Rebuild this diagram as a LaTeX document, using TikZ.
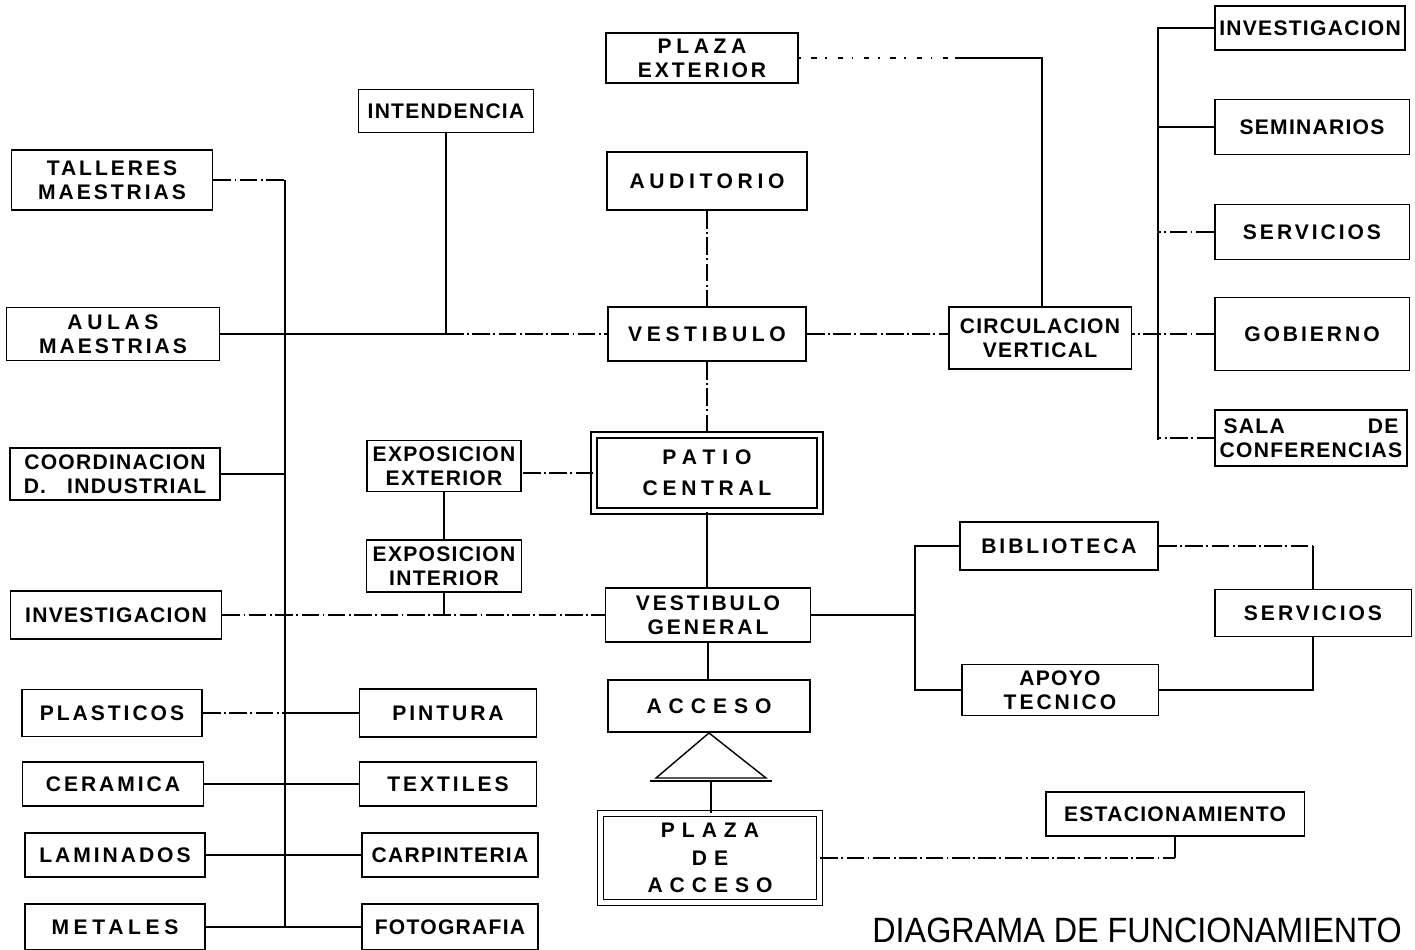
\documentclass[tikz,border=0pt]{standalone}
\usepackage{fontspec}
\setmainfont{Liberation Sans}
\newfontfamily\lbl[LetterSpace=6]{Liberation Sans}
\newfontfamily\lblw[LetterSpace=14]{Liberation Sans}
\newfontfamily\lblx[LetterSpace=22]{Liberation Sans}
\newfontfamily\lbly[LetterSpace=33]{Liberation Sans}
\newfontfamily\ttl[FakeStretch=0.92]{Liberation Sans}
\usetikzlibrary{calc}
\tikzset{
    block/.style = {draw, rectangle, line width=1.1pt, inner sep=0pt,
        align=center, font=\lbl\bfseries\fontsize{12}{13.5}\selectfont},
    dblock/.style = {block, double, double distance=2.5pt, line width=.8pt},
    line/.style = {draw, line width=.6pt},
    dline/.style = {line, dash pattern=on 10pt off 2pt on 1pt off 2pt},
    fline/.style = {line, dash pattern=on 1pt off 6pt on 3pt off 5pt}
}

\begin{document}
\begin{tikzpicture}[x=0.02cm,y=-0.02cm]
    \useasboundingbox (0,0) rectangle (1415,949);
    % left column
    \node[block, minimum width=4.02cm, minimum height=1.2cm] (tall) at (112,180) {{\lblw TALLERES}\\{\lblw MAESTRIAS}};
    \node[block, minimum width=4.26cm, minimum height=1.06cm] (aula) at (113,334) {{\lblx AULAS}\\{\lblw MAESTRIAS}};
    \node[block, minimum width=4.2cm, minimum height=1.04cm] (coor) at (115,474) {COORDINACION\\D.\quad INDUSTRIAL};
    \node[block, minimum width=4.22cm, minimum height=0.96cm] (invl) at (116,615) {INVESTIGACION};
    \node[block, minimum width=3.6cm, minimum height=0.94cm] (plas) at (112,713) {\lblw PLASTICOS};
    \node[block, minimum width=3.62cm, minimum height=0.88cm] (cera) at (113,784) {\lblw CERAMICA};
    \node[block, minimum width=3.6cm, minimum height=0.88cm] (lami) at (115,855) {\lblw LAMINADOS};
    \node[block, minimum width=3.6cm, minimum height=0.92cm] (meta) at (115,927) {\lblx METALES};
    \node[block, minimum width=3.54cm, minimum height=0.96cm] (pint) at (448,713) {\lblw PINTURA};
    \node[block, minimum width=3.54cm, minimum height=0.88cm] (text) at (448,784) {\lblw TEXTILES};
    \node[block, minimum width=3.52cm, minimum height=0.88cm] (carp) at (450,855) {CARPINTERIA};
    \node[block, minimum width=3.52cm, minimum height=0.92cm] (foto) at (450,927) {FOTOGRAFIA};
    \node[block, minimum width=3.5cm, minimum height=0.86cm] (inte) at (446,111) {INTENDENCIA};
    \node[block, minimum width=3.08cm, minimum height=1.02cm] (expe) at (444,466) {EXPOSICION\\EXTERIOR};
    \node[block, minimum width=3.1cm, minimum height=1.04cm] (expi) at (444,566) {EXPOSICION\\INTERIOR};
    % center column
    \node[block, minimum width=3.84cm, minimum height=1.0cm] (plex) at (702,58) {{\lblx PLAZA}\\{\lblw EXTERIOR}};
    \node[block, minimum width=4.0cm, minimum height=1.16cm] (audi) at (707,181) {\lblx AUDITORIO};
    \node[block, minimum width=3.96cm, minimum height=1.08cm] (vest) at (707,334) {\lblx VESTIBULO};
    \node[dblock, minimum width=4.52cm, minimum height=1.52cm] (pati) at (707,473) {{\lbly PATIO}\\[4pt]{\lblx CENTRAL}};
    \node[block, minimum width=4.1cm, minimum height=1.08cm] (vgen) at (708,615) {{\lblw VESTIBULO}\\{\lblw GENERAL}};
    \node[block, minimum width=4.04cm, minimum height=1.04cm] (acce) at (709,706) {\lbly ACCESO};
    \node[dblock, minimum width=4.38cm, minimum height=1.78cm] (plac) at (710,858) {{\lbly PLAZA}\\[2pt]{\lbly DE}\\[2pt]{\lbly ACCESO}};
    % right side
    \node[block, minimum width=3.66cm, minimum height=1.24cm] (circ) at (1040,338) {CIRCULACION\\VERTICAL};
    \node[block, minimum width=3.8cm, minimum height=0.88cm] (invr) at (1310,28) {INVESTIGACION};
    \node[block, minimum width=3.9cm, minimum height=1.1cm] (semi) at (1312,127) {SEMINARIOS};
    \node[block, minimum width=3.9cm, minimum height=1.1cm] (serv) at (1312,232) {\lblw SERVICIOS};
    \node[block, minimum width=3.9cm, minimum height=1.46cm] (gobi) at (1312,334) {\lblw GOBIERNO};
    \node[block, minimum width=3.84cm, minimum height=1.12cm] (sala) at (1311,438) {\makebox[3.5cm]{SALA\hfill DE}\\CONFERENCIAS};
    \node[block, minimum width=3.96cm, minimum height=0.96cm] (bibl) at (1059,546) {\lblw BIBLIOTECA};
    \node[block, minimum width=3.94cm, minimum height=1.02cm] (apoy) at (1060,690) {{\lbl APOYO}\\{\lblw TECNICO}};
    \node[block, minimum width=3.94cm, minimum height=0.94cm] (serb) at (1313,613) {\lblw SERVICIOS};
    \node[block, minimum width=5.18cm, minimum height=0.88cm] (esta) at (1175,814) {ESTACIONAMIENTO};
    \node[font=\ttl\fontsize{20}{22}\selectfont, anchor=base, inner sep=0pt] (titl) at (1137,942) {DIAGRAMA DE FUNCIONAMIENTO};

    % left trunk
    \coordinate (ltop) at (285,180);
    \coordinate (lbot) at (285,927);
    \draw[dline] (tall.east) -- (ltop);
    \draw[line] (ltop) -- (lbot);
    \draw[line] (coor.east) -- (coor.east -| ltop);
    \draw[dline] (plas.east) -- (plas.east -| ltop);
    \draw[line] (plas.east -| ltop) -- (pint.west);
    \draw[line] (cera.east) -- (text.west);
    \draw[line] (lami.east) -- (carp.west);
    \draw[line] (meta.east) -- (foto.west);
    \coordinate (ij) at (inte.south |- aula.east);
    \draw[line] (aula.east) -- (ij);
    \draw[line] (inte.south) -- (ij);
    \draw[dline] (ij) -- (vest.west);
    \coordinate (xj) at (expi.south |- invl.east);
    \draw[dline] (invl.east) -- (vgen.west);
    \draw[line] (expi.south) -- (xj);
    \draw[line] (expe.south) -- (expi.north);
    \draw[dline] (pati.west) -- (pati.west -| expe.east);

    % center column
    \draw[dline] (audi.south) -- (vest.north);
    \draw[dline] (vest.south) -- (pati.north);
    \draw[line] (pati.south) -- (pati.south |- vgen.north);
    \draw[line] (vgen.south) -- (vgen.south |- acce.north);
    \coordinate (tril) at (656,778);
    \coordinate (trir) at (766,778);
    \coordinate (trib) at (711,781);
    \draw[line, line width=.8pt] (acce.south) -- (tril) -- (trir) -- cycle;
    \draw[line] (650,781) -- (772,781);
    \draw[line] (trib) -- (trib |- plac.north);
    \coordinate (pe) at (esta.south |- plac.east);
    \draw[dline] (plac.east) -- (pe);
    \draw[line] (pe) -- (esta.south);

    % right side
    \draw[dline] (vest.east) -- (vest.east -| circ.west);
    \coordinate (cup) at (1042,58);
    \coordinate (cdash) at (955,58);
    \draw[fline] (plex.east) -- (cdash);
    \draw[line] (cdash) -- (cup) -- (cup |- circ.north);
    \coordinate (rtop) at (1158,28);
    \coordinate (rbot) at (1158,440);
    \draw[line] (invr.west) -- (rtop) -- (rbot);
    \draw[line] (semi.west) -- (semi.west -| rtop);
    \draw[dline] (serv.west) -- (serv.west -| rtop);
    \draw[dline] (gobi.west) -- (gobi.west -| circ.east);
    \draw[dline] (sala.west) -- (sala.west -| rtop);
    \coordinate (bj) at (915,615);
    \draw[line] (vgen.east) -- (bj);
    \draw[line] (bibl.west) -- (bibl.west -| bj) -- (apoy.west -| bj) -- (apoy.west);
    \coordinate (sj) at (serb.north |- bibl.east);
    \draw[dline] (bibl.east) -- (sj);
    \draw[line] (sj) -- (serb.north);
    \draw[line] (apoy.east) -| (serb.south);
\end{tikzpicture}
\end{document}
